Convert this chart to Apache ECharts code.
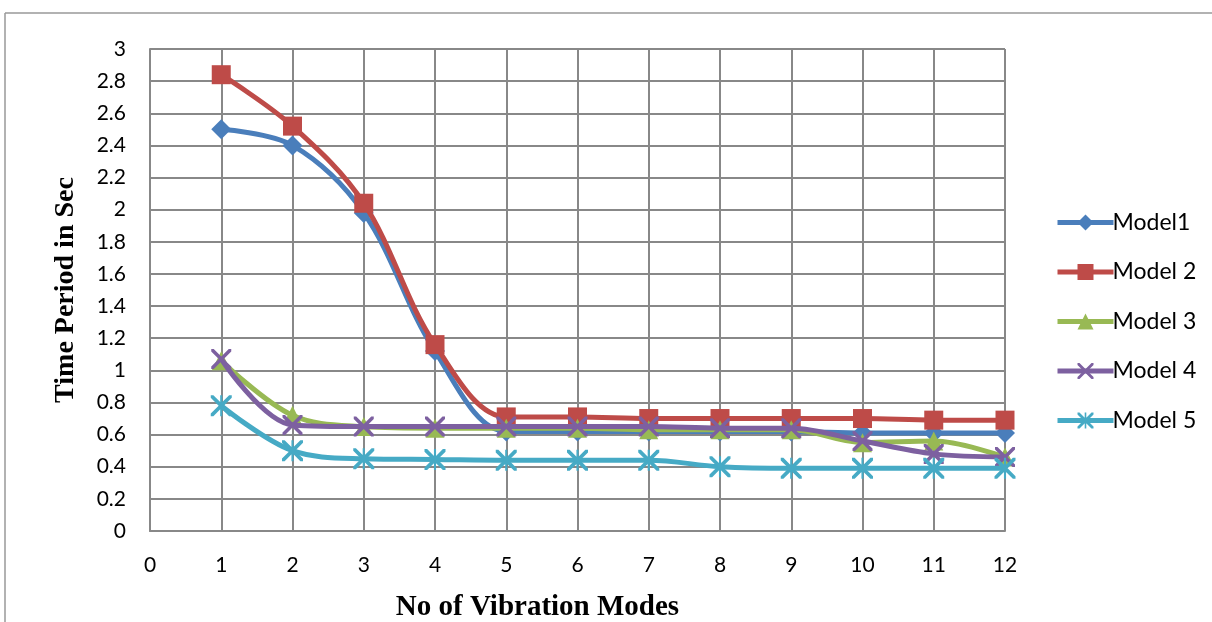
<!DOCTYPE html>
<html>
<head>
<meta charset="utf-8">
<script src="https://cdn.jsdelivr.net/npm/echarts@6/dist/echarts.min.js"></script>
<style>
html,body{margin:0;padding:0;background:#fff;}
#chart{width:1212px;height:622px;}
</style>
</head>
<body>
<div id="chart"></div>
<script>
const modes = [1,2,3,4,5,6,7,8,9,10,11,12];
const model1 = [2.50,2.40,1.98,1.12,0.62,0.62,0.62,0.62,0.62,0.61,0.61,0.61];
const model2 = [2.84,2.52,2.04,1.16,0.71,0.71,0.70,0.70,0.70,0.70,0.69,0.69];
const model3 = [1.06,0.72,0.65,0.64,0.64,0.64,0.63,0.63,0.63,0.55,0.56,0.46];
const model4 = [1.07,0.66,0.65,0.65,0.65,0.65,0.65,0.64,0.64,0.56,0.48,0.46];
const model5 = [0.78,0.50,0.45,0.445,0.44,0.44,0.44,0.40,0.39,0.39,0.39,0.39];
const seriesNames = ['Model1','Model 2','Model 3','Model 4','Model 5'];
const yTicks = {min:0, max:3, interval:0.2};
const xTicks = {min:0, max:12, interval:1};

const colors = ['#4a7ebb','#be4b48','#98b954','#7d60a0','#46aac5'];
const xPath = 'path://M0,0 L2.5,0 L10,7.5 L17.5,0 L20,0 L20,2.5 L12.5,10 L20,17.5 L20,20 L17.5,20 L10,12.5 L2.5,20 L0,20 L0,17.5 L7.5,10 L0,2.5 Z';
const starPath = xPath + ' M9,0 L11,0 L11,20 L9,20 Z';
const symbols = ['diamond','rect','triangle',xPath,starPath];
const sizes = [20,19,19,20,21];
const data = [model1,model2,model3,model4,model5];

const chart = echarts.init(document.getElementById('chart'));
const series = data.map((arr,i)=>({
  name: seriesNames[i],
  type: 'line',
  smooth: 0.35,
  data: arr.map((v,j)=>[modes[j], v]),
  symbol: symbols[i],
  symbolSize: sizes[i],
  showAllSymbol: true,
  lineStyle: {width: 5, color: colors[i]},
  itemStyle: {color: colors[i]},
  z: 3 + i
}));

chart.setOption({
  animation: false,
  backgroundColor: '#fff',
  grid: {left:150, right:207, top:49, bottom:91, containLabel:false, outerBoundsMode:'none'},
  xAxis: {
    type: 'value', min: xTicks.min, max: xTicks.max, interval: xTicks.interval,
    name: 'No of Vibration Modes', nameLocation: 'middle', nameGap: 62,
    nameTextStyle: {fontFamily: 'Liberation Serif', fontWeight: 'bold', fontSize: 29, color: '#000', padding: [0, 80, 0, 0]},
    axisLine: {show: true, lineStyle: {color: '#888', width: 2}},
    axisTick: {show: false},
    axisLabel: {margin: 24, fontFamily: 'Lato', fontSize: 21, color: '#000'},
    splitLine: {show: true, lineStyle: {color: '#888', width: 2}}
  },
  yAxis: {
    type: 'value', min: yTicks.min, max: yTicks.max, interval: yTicks.interval,
    name: 'Time Period in Sec', nameLocation: 'middle', nameGap: 70, nameRotate: 90,
    nameTextStyle: {fontFamily: 'Liberation Serif', fontWeight: 'bold', fontSize: 28, color: '#000'},
    axisLine: {show: true, lineStyle: {color: '#888', width: 2}},
    axisTick: {show: false},
    axisLabel: {margin: 24, fontFamily: 'Lato', fontSize: 21, color: '#000', formatter: v => String(+v.toFixed(1))},
    splitLine: {show: true, lineStyle: {color: '#888', width: 2}}
  },
  legend: {
    orient: 'vertical', left: 1050, top: 206,
    itemWidth: 56, itemHeight: 20, itemGap: 26.5,
    lineStyle: {width: 5},
    textStyle: {fontFamily: 'Lato', fontSize: 23, color: '#000', padding: [0,0,0,-6]},
    data: seriesNames
  },
  graphic: [
    {type: 'line', shape: {x1: 5, y1: 13, x2: 1212, y2: 13}, style: {stroke: '#999', lineWidth: 1.5}},
    {type: 'line', shape: {x1: 5, y1: 13, x2: 5, y2: 622}, style: {stroke: '#999', lineWidth: 1.5}}
  ],
  series: series
});
</script>
</body>
</html>
